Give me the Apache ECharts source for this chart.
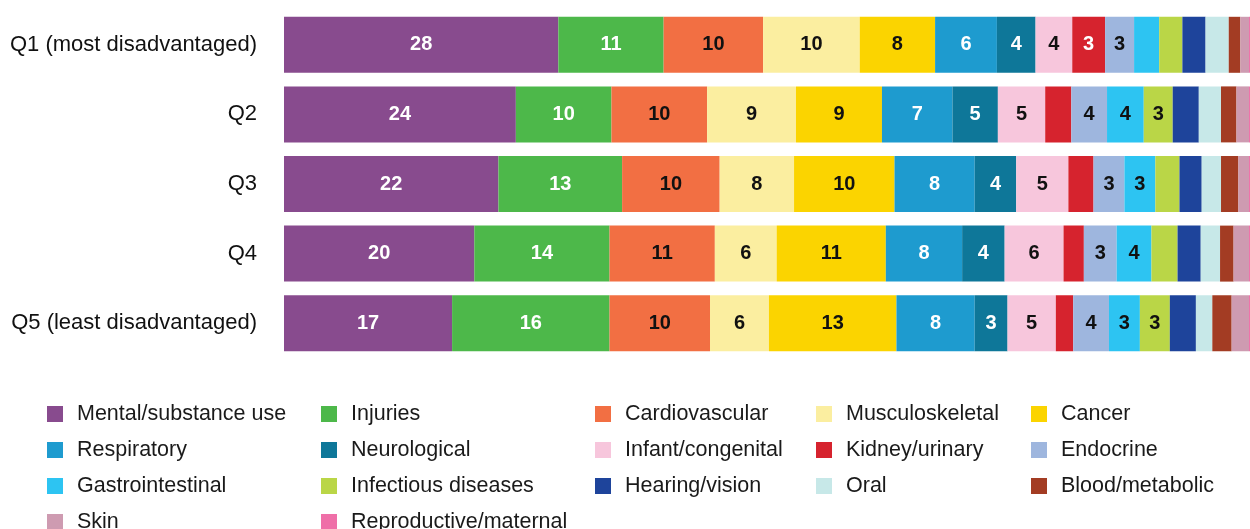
<!DOCTYPE html>
<html>
<head>
<meta charset="utf-8">
<script src="https://cdn.jsdelivr.net/npm/echarts@6/dist/echarts.min.js"></script>
<style>html,body{margin:0;padding:0;background:#fff;}#c{width:1250px;height:529px;}</style>
</head>
<body>
<div id="c"></div>
<script>
const categories = ['Q1 (most disadvantaged)', 'Q2', 'Q3', 'Q4', 'Q5 (least disadvantaged)'];
const groups = ['Mental/substance use','Injuries','Cardiovascular','Musculoskeletal','Cancer','Respiratory','Neurological','Infant/congenital','Kidney/urinary','Endocrine','Gastrointestinal','Infectious diseases','Hearing/vision','Oral','Blood/metabolic','Skin','Reproductive/maternal'];
// share (%) of burden per quintile, in the order of groups
const q1 = [28.4, 10.9, 10.3, 10.0, 7.8, 6.4, 4.0, 3.8, 3.4, 3.0, 2.6, 2.4, 2.4, 2.4, 1.2, 0.9, 0.1];
const q2 = [24.0, 9.9, 9.9, 9.2, 8.9, 7.3, 4.7, 4.9, 2.7, 3.7, 3.8, 3.0, 2.7, 2.3, 1.6, 1.3, 0.1];
const q3 = [22.2, 12.8, 10.1, 7.7, 10.4, 8.3, 4.3, 5.4, 2.6, 3.2, 3.2, 2.5, 2.3, 2.0, 1.8, 1.1, 0.1];
const q4 = [19.7, 14.0, 10.9, 6.4, 11.3, 7.9, 4.4, 6.1, 2.1, 3.4, 3.6, 2.7, 2.4, 2.0, 1.4, 1.6, 0.1];
const q5 = [17.4, 16.3, 10.4, 6.1, 13.2, 8.1, 3.4, 5.0, 1.8, 3.7, 3.2, 3.1, 2.7, 1.7, 2.0, 1.8, 0.1];
const quintiles = [q1, q2, q3, q4, q5];

const colors = ['#884B8E','#4DB84A','#F26F43','#FBEEA0','#FBD400','#1E9BCF','#0E7799','#F7C6DC','#D6232E','#9EB6DE','#2DC4F2','#BAD647','#1E449B','#C7E8E8','#A33C23','#CE9BB1','#EF6FA8'];
const labelColors = ['#fff','#fff','#111','#111','#111','#fff','#fff','#111','#fff','#111','#111','#111','#fff','#111','#fff','#111','#111'];

const series = groups.map((g, i) => ({
  name: g,
  type: 'bar',
  stack: 'total',
  barWidth: 56,
  data: quintiles.map(q => q[i]),
  itemStyle: { color: colors[i] },
  label: {
    show: true,
    position: 'inside',
    color: labelColors[i],
    fontSize: 20,
    fontWeight: 'bold',
    fontFamily: 'Liberation Sans, Arial, sans-serif',
    formatter: p => (p.value >= 2.8 ? String(Math.round(p.value)) : '')
  },
  emphasis: { disabled: true }
}));

// legend layout: 5 columns, filled row by row
const legendColX = [47, 321, 595, 816, 1031];
const legendRowY = [403, 439, 475, 511];
const legends = groups.map((g, i) => ({
  orient: 'horizontal',
  left: legendColX[i % 5],
  top: legendRowY[Math.floor(i / 5)],
  itemWidth: 16,
  itemHeight: 16,
  icon: 'rect',
  selectedMode: false,
  padding: 0,
  data: [g],
  textStyle: { fontSize: 21.5, color: '#1a1a1a', fontFamily: 'Liberation Sans, Arial, sans-serif', padding: [0, 0, 0, 9] }
}));

const chart = echarts.init(document.getElementById('c'), null, { renderer: 'canvas' });
chart.setOption({
  animation: false,
  backgroundColor: '#fff',
  grid: { left: 284, right: 0, top: 10, height: 348, containLabel: false },
  xAxis: { type: 'value', min: 0, max: 100, show: false },
  yAxis: {
    type: 'category',
    data: categories,
    inverse: true,
    axisLine: { show: false },
    axisTick: { show: false },
    axisLabel: { color: '#111', fontSize: 22, fontFamily: 'Liberation Sans, Arial, sans-serif', margin: 27 }
  },
  legend: legends,
  series: series
});
</script>
</body>
</html>
